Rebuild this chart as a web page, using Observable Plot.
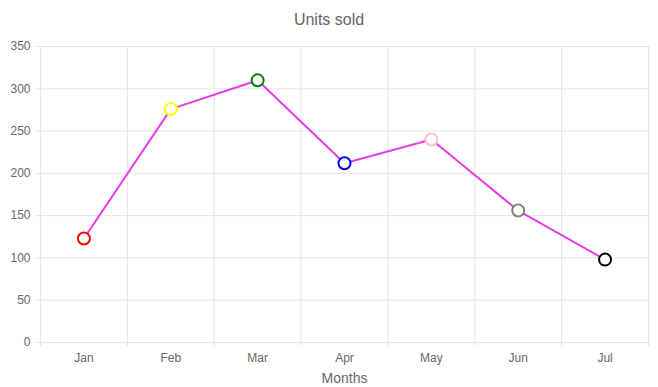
<!DOCTYPE html>
<html>
<head>
<meta charset="utf-8">
<script src="https://cdn.jsdelivr.net/npm/d3@7"></script>
<script src="https://cdn.jsdelivr.net/npm/@observablehq/plot@0.6"></script>
<style>
  html, body { margin: 0; padding: 0; background: #fff; }
  #title { width: 658px; height: 38px; box-sizing: border-box; padding-top: 11px; line-height: 18px;
           text-align: center; font: 16px "Liberation Sans", Arial, sans-serif; color: #666; }
</style>
</head>
<body>
<div id="title">Units sold</div>
<div id="chart"></div>
<script>
const months = ["Jan", "Feb", "Mar", "Apr", "May", "Jun", "Jul"];
const unitsSold = [123, 276, 310, 212, 240, 156, 98];
const pointColors = ["red", "yellow", "green", "blue", "pink", "gray", "black"];
const yTicks = [0, 50, 100, 150, 200, 250, 300, 350];
const xTitle = "Months";

const data = months.map((m, i) => ({i, month: m, value: unitsSold[i], color: pointColors[i]}));
const idx = d3.range(months.length);
const bounds = d3.range(months.length + 1).map(k => k - 0.5);

const gridColor = "#e6e6e6";
const textColor = "#666";

const plot = Plot.plot({
  width: 658,
  height: 349,
  marginTop: 8,
  marginBottom: 45,
  marginLeft: 40,
  marginRight: 10,
  style: {fontFamily: '"Liberation Sans", Arial, sans-serif', fontSize: "12px", background: "white"},
  x: {type: "linear", domain: [-0.5, months.length - 0.5]},
  y: {domain: [0, 350]},
  color: {type: "identity"},
  marks: [
    Plot.gridY(yTicks, {stroke: gridColor, strokeOpacity: 1}),
    Plot.ruleX(bounds, {stroke: gridColor, insetBottom: -4}),
    Plot.axisY({ticks: yTicks, tickSize: 5, tickPadding: 5, stroke: gridColor, strokeOpacity: 1, fill: textColor, fontSize: 12, label: null}),
    Plot.axisX({ticks: idx, tickFormat: i => months[i], tickSize: 0, tickPadding: 11, fill: textColor, fontSize: 12, label: null}),
    Plot.text([xTitle], {frameAnchor: "bottom", dy: 31, lineAnchor: "top", fontSize: 14, fill: textColor}),
    Plot.line(data, {x: "i", y: "value", stroke: "#e83de6", strokeWidth: 2}),
    Plot.dot(data, {x: "i", y: "value", r: 6, fill: "white", stroke: "color", strokeWidth: 2})
  ]
});
document.getElementById("chart").appendChild(plot);
</script>
</body>
</html>
